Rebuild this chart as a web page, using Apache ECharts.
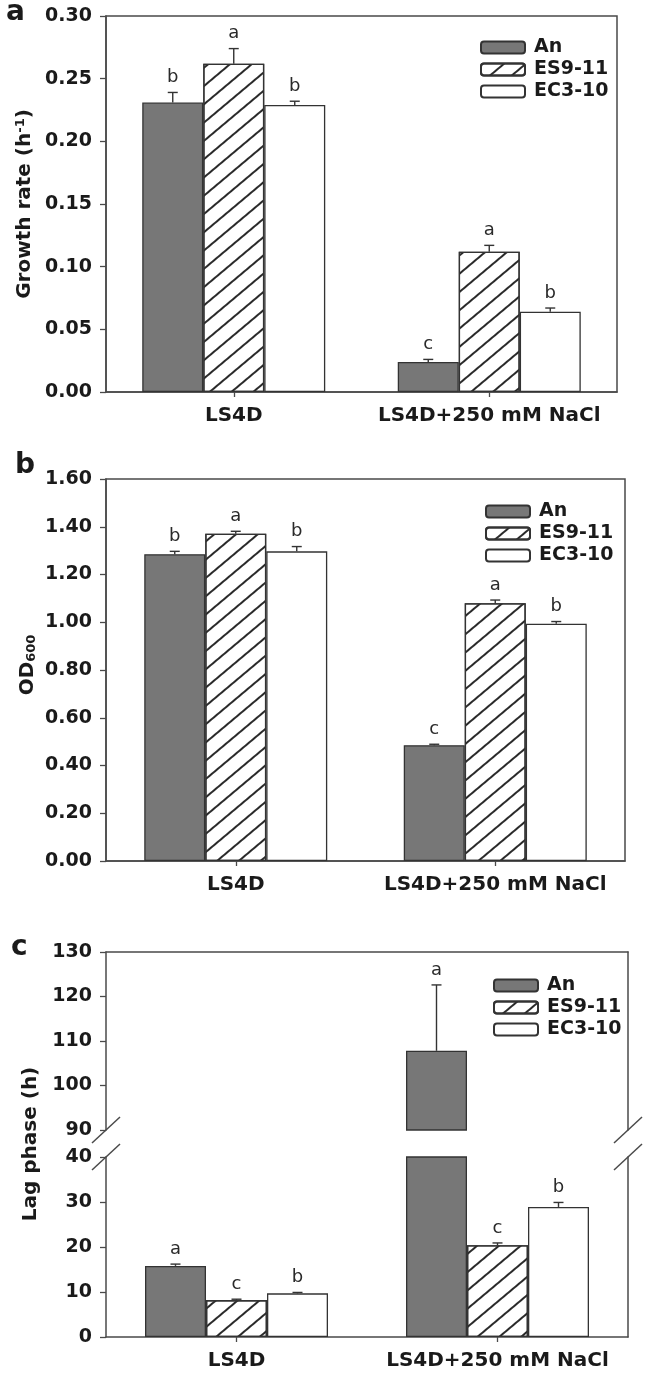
<!DOCTYPE html>
<html><head><meta charset="utf-8">
<script src="https://cdn.jsdelivr.net/npm/echarts@6/dist/echarts.min.js"></script>
<style>html,body{margin:0;padding:0;background:#fff}#c{width:645px;height:1378px}</style>
</head><body><div id="c"></div>
<script>
// ---------- data ----------
const categories = ['LS4D', 'LS4D+250 mM NaCl'];
const seriesNames = ['An', 'ES9-11', 'EC3-10'];

// panel a: growth rate (h-1)
const growthAn = [0.231, 0.024];
const growthES = [0.262, 0.112];
const growthEC = [0.229, 0.064];
const growthErrAn = [0.008, 0.002];
const growthErrES = [0.012, 0.005];
const growthErrEC = [0.003, 0.003];
const growthLetAn = ['b', 'c'];
const growthLetES = ['a', 'a'];
const growthLetEC = ['b', 'b'];
const growthTicks = ['0.00', '0.05', '0.10', '0.15', '0.20', '0.25', '0.30'];

// panel b: OD600
const odAn = [1.285, 0.485];
const odES = [1.371, 1.080];
const odEC = [1.297, 0.994];
const odErrAn = [0.012, 0.004];
const odErrES = [0.010, 0.013];
const odErrEC = [0.020, 0.009];
const odLetAn = ['b', 'c'];
const odLetES = ['a', 'a'];
const odLetEC = ['b', 'b'];
const odTicks = ['0.00', '0.20', '0.40', '0.60', '0.80', '1.00', '1.20', '1.40', '1.60'];

// panel c: lag phase (h), broken axis
const lagAn = [15.8, 107.8];
const lagES = [8.2, 20.4];
const lagEC = [9.7, 28.9];
const lagErrAn = [0.4, 14.8];
const lagErrES = [0.2, 0.5];
const lagErrEC = [0.2, 1.0];
const lagLetAn = ['a', 'a'];
const lagLetES = ['c', 'c'];
const lagLetEC = ['b', 'b'];
const lagTicksLow = ['0', '10', '20', '30', '40'];
const lagTicksHigh = ['90', '100', '110', '120', '130'];

// ---------- style / layout ----------
const TXT = '#1a1a1a';
const AXC = '#4a4a4a';
const BAR_W = 61;
const CAP = 5;
const LET_GAP = 6;
const G = [
  {left: 106, top: 16, width: 511, height: 376},
  {left: 106, top: 479, width: 519, height: 382},
  {left: 106, top: 952, width: 522, height: 178},
  {left: 106, top: 1157, width: 522, height: 180}
];
const hatch = {
  symbol: 'rect', symbolSize: 1, color: '#2a2a2a',
  dashArrayX: [1, 0], dashArrayY: [2, 12], rotation: -Math.PI * 40 / 180
};
const fills = [
  {color: '#777777', borderColor: '#333', borderWidth: 1.3},
  {color: '#ffffff', borderColor: '#333', borderWidth: 1.3, decal: hatch},
  {color: '#ffffff', borderColor: '#333', borderWidth: 1.3}
];

function tickAxis(ticks) {
  const nums = ticks.map(Number);
  const dec = (ticks[0].split('.')[1] || '').length;
  return {min: nums[0], max: nums[nums.length - 1], interval: nums[1] - nums[0], dec};
}
function yAxisLeft(gridIndex, ticks) {
  const t = tickAxis(ticks);
  return {
    type: 'value', gridIndex, min: t.min, max: t.max, interval: t.interval,
    axisLine: {show: true, lineStyle: {color: AXC, width: 1.5}},
    axisTick: {show: true, length: 6, lineStyle: {color: AXC, width: 1.3}},
    axisLabel: {margin: 14, color: TXT, fontFamily: 'DejaVu Sans', fontWeight: 'bold', fontSize: 19,
      formatter: v => v.toFixed(t.dec)},
    splitLine: {show: false}
  };
}
function yAxisRight(gridIndex, ticks) {
  const t = tickAxis(ticks);
  return {
    type: 'value', gridIndex, position: 'right', min: t.min, max: t.max, interval: t.interval,
    axisLine: {show: true, lineStyle: {color: AXC, width: 1.5}},
    axisTick: {show: false}, axisLabel: {show: false}, splitLine: {show: false}
  };
}
function xAxisBottom(gridIndex) {
  return {
    type: 'category', gridIndex, data: categories,
    axisLine: {show: true, lineStyle: {color: AXC, width: 1.5}},
    axisTick: {show: true, alignWithLabel: true, length: 5, interval: 0, lineStyle: {color: AXC, width: 1.3}},
    axisLabel: {interval: 0, hideOverlap: false, margin: 14, color: TXT, fontFamily: 'DejaVu Sans', fontWeight: 'bold', fontSize: 20}
  };
}
function xAxisTopLine(gridIndex) {
  return {
    type: 'category', gridIndex, data: categories, position: 'top',
    axisLine: {show: true, lineStyle: {color: AXC, width: 1.5}},
    axisTick: {show: false}, axisLabel: {show: false}
  };
}
function barSeries(k, vals, xi, yi) {
  return {
    type: 'bar', name: seriesNames[k], xAxisIndex: xi, yAxisIndex: yi,
    data: vals, barWidth: BAR_W, barGap: '0%', clip: true,
    itemStyle: fills[k], emphasis: {disabled: true}
  };
}
function errSeries(k, vals, errs, lets, xi, yi) {
  return {
    type: 'custom', xAxisIndex: xi, yAxisIndex: yi, clip: true, z: 5, silent: true,
    data: vals.map((v, i) => [i, v, errs[i]]),
    renderItem(params, api) {
      const i = params.dataIndex;
      const base = api.coord([api.value(0), api.value(1)]);
      const top = api.coord([api.value(0), api.value(1) + api.value(2)]);
      const x = base[0] + (k - 1) * BAR_W;
      const ls = {stroke: '#333', lineWidth: 1.4};
      return {type: 'group', children: [
        {type: 'line', shape: {x1: x, y1: base[1], x2: x, y2: top[1]}, style: ls},
        {type: 'line', shape: {x1: x - CAP, y1: top[1], x2: x + CAP, y2: top[1]}, style: ls},
        {type: 'text', x: x, y: top[1] - LET_GAP,
          style: {text: lets[i], textAlign: 'center', textVerticalAlign: 'bottom',
            font: '18px "DejaVu Sans"', fill: '#2a2a2a'}}
      ]};
    }
  };
}
function legendAt(left, top) {
  return {
    orient: 'vertical', left, top, itemWidth: 44, itemHeight: 12, itemGap: 3,
    data: seriesNames, selectedMode: false,
    textStyle: {color: TXT, fontFamily: 'DejaVu Sans', fontWeight: 'bold', fontSize: 19, padding: [0, 0, 0, 4]}
  };
}

const panels = [
  {vals: [growthAn, growthES, growthEC], errs: [growthErrAn, growthErrES, growthErrEC], lets: [growthLetAn, growthLetES, growthLetEC]},
  {vals: [odAn, odES, odEC], errs: [odErrAn, odErrES, odErrEC], lets: [odLetAn, odLetES, odLetEC]},
  {vals: [lagAn, lagES, lagEC], errs: [lagErrAn, lagErrES, lagErrEC], lets: [lagLetAn, lagLetES, lagLetEC]}
];

const series = [];
// axis pairs: [xAxisIndex, yAxisIndex]
const pairs = [[[0, 0]], [[1, 1]], [[2, 2], [3, 4]]];
panels.forEach((p, pi) => {
  pairs[pi].forEach(([xi, yi]) => {
    for (let k = 0; k < 3; k++) series.push(barSeries(k, p.vals[k], xi, yi));
    for (let k = 0; k < 3; k++) series.push(errSeries(k, p.vals[k], p.errs[k], p.lets[k], xi, yi));
  });
});

// break marks
const breakMarks = [];
[G[2].left, G[2].left + G[2].width].forEach(x => {
  [G[2].top + G[2].height, G[3].top].forEach(y => {
    breakMarks.push({type: 'line', shape: {x1: x - 14, y1: y + 13, x2: x + 14, y2: y - 13},
      style: {stroke: AXC, lineWidth: 1.5}, z: 10});
  });
});

const titleStyle = (text, rich) => ({
  text, rich, font: 'bold 20px "DejaVu Sans"', fill: TXT, textAlign: 'center', textVerticalAlign: 'middle'
});

const option = {
  animation: false,
  backgroundColor: '#fff',
  grid: G.map((g, i) => Object.assign({}, g, {
    show: i < 2, borderColor: AXC, borderWidth: 1.5, containLabel: false
  })),
  xAxis: [xAxisBottom(0), xAxisBottom(1), xAxisTopLine(2), xAxisBottom(3)],
  yAxis: [
    yAxisLeft(0, growthTicks), yAxisLeft(1, odTicks),
    yAxisLeft(2, lagTicksHigh), yAxisRight(2, lagTicksHigh),
    yAxisLeft(3, lagTicksLow), yAxisRight(3, lagTicksLow)
  ],
  legend: [legendAt(475, 33), legendAt(480, 497), legendAt(488, 971)],
  series,
  graphic: [
    {type: 'text', x: 6, y: 13, style: {text: 'a', font: 'bold 28px "DejaVu Sans"', fill: TXT, textVerticalAlign: 'middle'}},
    {type: 'text', x: 15, y: 466, style: {text: 'b', font: 'bold 28px "DejaVu Sans"', fill: TXT, textVerticalAlign: 'middle'}},
    {type: 'text', x: 11, y: 948, style: {text: 'c', font: 'bold 28px "DejaVu Sans"', fill: TXT, textVerticalAlign: 'middle'}},
    {type: 'text', x: 25, y: 204, rotation: Math.PI / 2,
      style: titleStyle('Growth rate (h{sup|-1})', {sup: {font: 'bold 13px "DejaVu Sans"', fill: TXT, verticalAlign: 'top', padding: [0, 0, 8, 0]}})},
    {type: 'text', x: 28, y: 665, rotation: Math.PI / 2,
      style: titleStyle('OD{sub|600}', {sub: {font: 'bold 13px "DejaVu Sans"', fill: TXT, verticalAlign: 'bottom', padding: [8, 0, 0, 0]}})},
    {type: 'text', x: 31, y: 1144, rotation: Math.PI / 2, style: titleStyle('Lag phase (h)')}
  ].concat(breakMarks)
};

const chart = echarts.init(document.getElementById('c'), null, {renderer: 'canvas'});
chart.setOption(option);
</script></body></html>
